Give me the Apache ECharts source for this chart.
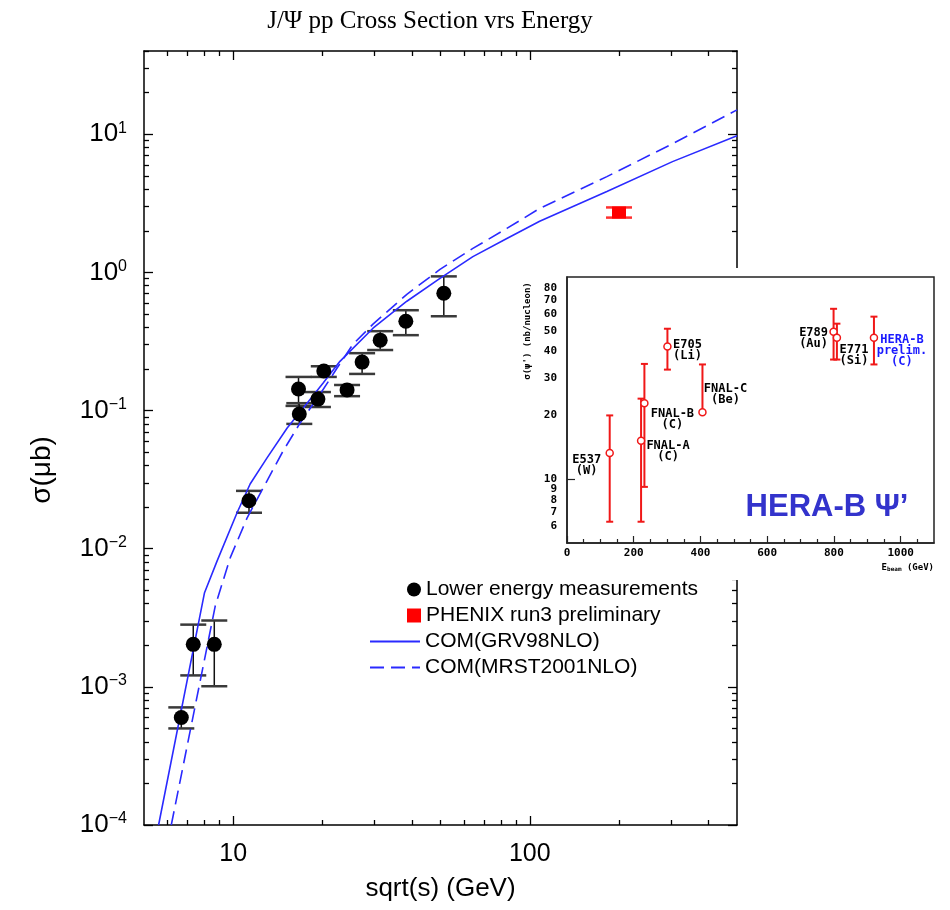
<!DOCTYPE html>
<html>
<head>
<meta charset="utf-8">
<script src="https://cdn.jsdelivr.net/npm/echarts@6/dist/echarts.min.js"></script>
<style>html,body{margin:0;padding:0;background:#fff}#c{width:950px;height:910px}</style>
</head>
<body>
<div id="c"></div>
<script>
// ---------- data ----------
const lowX  = [6.68, 7.33, 8.63, 11.3, 16.6, 16.7, 19.3, 20.2, 24.2, 27.2, 31.3, 38.2, 51.3];
const lowY  = [6.0e-4, 2.03e-3, 2.03e-3, 0.0222, 0.143, 0.0944, 0.121, 0.193, 0.141, 0.224, 0.323, 0.443, 0.705];
const lowLo = [5.0e-4, 1.21e-3, 1.01e-3, 0.0182, 0.108, 0.080, 0.106, 0.175, 0.127, 0.184, 0.274, 0.351, 0.481];
const lowHi = [7.1e-4, 2.82e-3, 3.02e-3, 0.0262, 0.175, 0.113, 0.136, 0.209, 0.153, 0.260, 0.375, 0.532, 0.935];

const phenixX = [200];
const phenixY = [2.71];
const phenixLo = [2.49];
const phenixHi = [2.95];

const grvX = [5.6, 8.0, 8.83, 10.3, 11.4, 13.0, 15.2, 17.2, 20.1, 22.9, 29.6, 38.5, 49.8, 64.3, 83.7, 108, 182, 303, 500];
const grvY = [1.0e-4, 4.8e-3, 8.2e-3, 0.0182, 0.0294, 0.0454, 0.0748, 0.104, 0.158, 0.227, 0.394, 0.618, 0.905, 1.30, 1.76, 2.34, 3.85, 6.33, 9.75];

const mrstX = [6.18, 8.70, 9.77, 11.15, 13.0, 14.74, 16.81, 19.63, 22.4, 25.35, 29.6, 38.5, 49.8, 64.3, 83.7, 108, 182, 303, 500];
const mrstY = [1.0e-4, 3.87e-3, 8.61e-3, 0.0168, 0.0310, 0.0511, 0.0813, 0.1315, 0.203, 0.302, 0.422, 0.693, 1.05, 1.49, 2.08, 2.90, 4.93, 8.53, 15.0];

const xMajorTicks = [10, 100];
const xMinorTicks = [6, 7, 8, 9, 20, 30, 40, 50, 60, 70, 80, 90, 200, 300, 400];
const yMajorTicks = [1e-4, 1e-3, 1e-2, 1e-1, 1, 10];
const yMinorTicks = [2e-4, 3e-4, 4e-4, 5e-4, 6e-4, 7e-4, 8e-4, 9e-4,
                     2e-3, 3e-3, 4e-3, 5e-3, 6e-3, 7e-3, 8e-3, 9e-3,
                     0.02, 0.03, 0.04, 0.05, 0.06, 0.07, 0.08, 0.09,
                     0.2, 0.3, 0.4, 0.5, 0.6, 0.7, 0.8, 0.9,
                     2, 3, 4, 5, 6, 7, 8, 9, 20, 30, 40];

// inset (HERA-B psi')
const insetNames = ['E537\n(W)', 'FNAL-A\n(C)', 'FNAL-B\n(C)', 'E705\n(Li)', 'FNAL-C\n(Be)', 'E789\n(Au)', 'E771\n(Si)', 'HERA-B\nprelim.\n(C)'];
const insetE  = [128, 222, 232, 301, 406, 799, 809, 920];
const insetY  = [13.3, 15.2, 22.8, 42.3, 20.7, 49.7, 46.5, 46.5];
const insetLo = [6.3, 6.3, 9.2, 32.9, 20.7, 36.7, 36.7, 34.8];
const insetHi = [20.0, 24.0, 35.0, 51.3, 34.8, 63.7, 54.2, 58.5];
const insetXTicks = [0, 200, 400, 600, 800, 1000];
const insetXMinor = [50, 100, 150, 250, 300, 350, 450, 500, 550, 650, 700, 750, 850, 900, 950, 1050];
const insetYTicks = [6, 7, 8, 9, 10, 20, 30, 40, 50, 60, 70, 80];

// ---------- styling (not data) ----------
const labelOffsets = [[-23, 12], [27, 11], [28, 16], [20, 4], [23, -18], [-20, 7], [17, 18], [28, 13]];
const labelColors = ['#000', '#000', '#000', '#000', '#000', '#000', '#000', '#1a1aff'];
const BLUE = '#2a2aff';
const SANS = 'Liberation Sans';
const MONO = 'DejaVu Sans Mono';

function zip(a, b) { return a.map((v, i) => [v, b[i]]); }
function zip3(a, b, c) { return a.map((v, i) => [v, b[i], c[i]]); }

function errRender(capW, lineColor, capColor, lw, capLw) {
  return function (params, api) {
    const x = api.value(0), lo = api.value(1), hi = api.value(2);
    const a = api.coord([x, lo]), b = api.coord([x, hi]);
    const h = capW / 2;
    return {
      type: 'group', children: [
        {type: 'line', shape: {x1: a[0], y1: a[1], x2: b[0], y2: b[1]}, style: {stroke: lineColor, lineWidth: lw}},
        {type: 'line', shape: {x1: a[0] - h, y1: a[1], x2: a[0] + h, y2: a[1]}, style: {stroke: capColor, lineWidth: capLw}},
        {type: 'line', shape: {x1: b[0] - h, y1: b[1], x2: b[0] + h, y2: b[1]}, style: {stroke: capColor, lineWidth: capLw}}
      ]
    };
  };
}

function supLabel(v) {
  const e = Math.round(Math.log10(v));
  const s = e < 0 ? '\u2212' + (-e) : String(e);
  return '{b|10}{s|' + s + '}';
}

function mainX(pos, ticks, len, showLine, showLabel) {
  return {
    type: 'log', logBase: 10, gridIndex: 0, min: 5, max: 500, position: pos,
    axisLine: {show: showLine, onZero: false, lineStyle: {color: '#000', width: 1.5}},
    axisTick: {show: true, inside: true, length: len, customValues: ticks, lineStyle: {color: '#000', width: 1.3}},
    axisLabel: {show: showLabel, customValues: xMajorTicks, margin: 17, color: '#000', fontFamily: SANS, fontSize: 25},
    splitLine: {show: false}, minorTick: {show: false},
    name: showLabel ? 'sqrt(s) (GeV)' : '', nameLocation: 'middle', nameGap: 51,
    nameTextStyle: {color: '#000', fontFamily: SANS, fontSize: 26}
  };
}
function mainY(pos, ticks, len, showLine, showLabel) {
  return {
    type: 'log', logBase: 10, gridIndex: 0, min: 1e-4, max: 40, position: pos,
    axisLine: {show: showLine, onZero: false, lineStyle: {color: '#000', width: 1.5}},
    axisTick: {show: true, inside: true, length: len, customValues: ticks, lineStyle: {color: '#000', width: 1.3}},
    axisLabel: {
      show: showLabel, customValues: yMajorTicks, margin: 17, formatter: supLabel,
      rich: {
        b: {fontFamily: SANS, fontSize: 26, color: '#000', lineHeight: 28},
        s: {fontFamily: SANS, fontSize: 16, color: '#000', verticalAlign: 'top', lineHeight: 16}
      }
    },
    splitLine: {show: false}, minorTick: {show: false}
  };
}

const chart = echarts.init(document.getElementById('c'), null, {renderer: 'canvas'});

const option = {
  animation: false,
  backgroundColor: '#fff',
  title: {
    text: 'J/\u03A8 pp Cross Section vrs Energy', left: 425, top: 4, textAlign: 'center',
    textStyle: {fontFamily: 'Liberation Serif', fontSize: 25, fontWeight: 'normal', color: '#000'}
  },
  grid: [
    {left: 144, right: 213, top: 51, bottom: 85, containLabel: false, outerBoundsMode: 'none'},
    {left: 567, right: 16, top: 277, bottom: 367, containLabel: false, outerBoundsMode: 'none',
     show: true, borderColor: '#222', borderWidth: 1.5, backgroundColor: 'rgba(0,0,0,0)', z: 4}
  ],
  legend: [
    {
      orient: 'vertical', left: 402, top: 574, itemWidth: 14, itemHeight: 14, itemGap: 5,
      textStyle: {fontFamily: SANS, fontSize: 21, color: '#000'},
      data: [{name: 'Lower energy measurements', icon: 'circle'}, {name: 'PHENIX run3 preliminary', icon: 'rect'}]
    },
    {
      orient: 'vertical', left: 364, top: 626, itemWidth: 50, itemHeight: 14, itemGap: 5,
      textStyle: {fontFamily: SANS, fontSize: 21, color: '#000'},
      itemStyle: {color: 'rgba(0,0,0,0)', borderColor: 'rgba(0,0,0,0)', borderWidth: 0},
      data: ['COM(GRV98NLO)', 'COM(MRST2001NLO)']
    }
  ],
  xAxis: [
    mainX('bottom', xMajorTicks, 9, true, true),
    mainX('bottom', xMinorTicks, 5, false, false),
    mainX('top', xMajorTicks, 9, true, false),
    mainX('top', xMinorTicks, 5, false, false),
    {
      type: 'value', gridIndex: 1, min: 0, max: 1100, position: 'bottom', z: 4,
      axisLine: {show: true, onZero: false, lineStyle: {color: '#222', width: 1.5}},
      axisTick: {show: true, inside: true, length: 7, customValues: insetXTicks, lineStyle: {color: '#222', width: 1.2}},
      axisLabel: {customValues: insetXTicks, margin: 5, color: '#000', fontFamily: MONO, fontSize: 11, fontWeight: 'bold',
                  formatter: v => String(v)},
      splitLine: {show: false}
    },
    {
      type: 'value', gridIndex: 1, min: 0, max: 1100, position: 'bottom', z: 4,
      axisLine: {show: false, onZero: false},
      axisTick: {show: true, inside: true, length: 4, customValues: insetXMinor, lineStyle: {color: '#222', width: 1.2}},
      axisLabel: {show: false}, splitLine: {show: false}
    }
  ],
  yAxis: [
    mainY('left', yMajorTicks, 9, true, true),
    mainY('left', yMinorTicks, 5, false, false),
    mainY('right', yMajorTicks, 9, true, false),
    mainY('right', yMinorTicks, 5, false, false),
    {
      type: 'log', logBase: 10, gridIndex: 1, min: 5, max: 90, position: 'left', z: 4,
      axisLine: {show: true, onZero: false, lineStyle: {color: '#222', width: 1.5}},
      axisTick: {show: true, inside: true, length: 8, customValues: [10], lineStyle: {color: '#222', width: 1.2}},
      axisLabel: {customValues: insetYTicks, margin: 10, color: '#000', fontFamily: MONO, fontSize: 11, fontWeight: 'bold',
                  formatter: v => String(Math.round(v))},
      splitLine: {show: false}, minorTick: {show: false}
    }
  ],
  series: [
    {
      name: 'COM(GRV98NLO)', type: 'line', xAxisIndex: 0, yAxisIndex: 0, symbol: 'none', z: 2,
      data: zip(grvX, grvY), color: BLUE, lineStyle: {color: BLUE, width: 1.6, type: 'solid'}
    },
    {
      name: 'COM(MRST2001NLO)', type: 'line', xAxisIndex: 0, yAxisIndex: 0, symbol: 'none', z: 2,
      data: zip(mrstX, mrstY), color: BLUE, lineStyle: {color: BLUE, width: 1.6, type: [14, 7]}
    },
    {
      name: 'lowErr', type: 'custom', xAxisIndex: 0, yAxisIndex: 0, z: 2,
      encode: {x: 0, y: [1, 2]}, data: zip3(lowX, lowLo, lowHi),
      renderItem: errRender(26, '#111', '#3a3a3a', 1.5, 2.5)
    },
    {
      name: 'Lower energy measurements', type: 'scatter', xAxisIndex: 0, yAxisIndex: 0, z: 3,
      symbol: 'circle', symbolSize: 15, data: zip(lowX, lowY), itemStyle: {color: '#000', opacity: 1}
    },
    {
      name: 'phenixErr', type: 'custom', xAxisIndex: 0, yAxisIndex: 0, z: 2,
      encode: {x: 0, y: [1, 2]}, data: zip3(phenixX, phenixLo, phenixHi),
      renderItem: errRender(26, '#ff2020', '#ff3030', 1.5, 2.5)
    },
    {
      name: 'PHENIX run3 preliminary', type: 'scatter', xAxisIndex: 0, yAxisIndex: 0, z: 3,
      symbol: 'rect', symbolSize: [14, 12], data: zip(phenixX, phenixY), itemStyle: {color: '#ff0000', opacity: 1}
    },
    {
      name: 'insetErr', type: 'custom', xAxisIndex: 4, yAxisIndex: 4, z: 5,
      encode: {x: 0, y: [1, 2]}, data: zip3(insetE, insetLo, insetHi),
      renderItem: errRender(7, '#f01818', '#f01818', 2, 2)
    },
    {
      name: 'insetPts', type: 'scatter', xAxisIndex: 4, yAxisIndex: 4, z: 6,
      symbol: 'circle', symbolSize: 7,
      itemStyle: {color: '#fff', borderColor: '#f01818', borderWidth: 1.5, opacity: 1},
      data: insetE.map((e, i) => ({
        value: [e, insetY[i]], name: insetNames[i],
        label: {
          show: true, position: 'inside', offset: labelOffsets[i], formatter: insetNames[i],
          align: 'center', verticalAlign: 'middle',
          color: labelColors[i], fontFamily: MONO, fontSize: 12, fontWeight: 'bold', lineHeight: 11
        }
      }))
    }
  ],
  graphic: {
    elements: [
      {type: 'rect', z: 3, shape: {x: 515, y: 268, width: 430, height: 312}, style: {fill: '#fff'}},
      {type: 'text', z: 1, x: 42, y: 470, rotation: Math.PI / 2,
       style: {text: '\u03C3(\u03BCb)', fontFamily: SANS, fontSize: 28, fill: '#000', align: 'center', verticalAlign: 'middle'}},
      {type: 'text', z: 7, x: 528, y: 331, rotation: Math.PI / 2,
       style: {text: "\u03C3(\u03C8') (nb/nucleon)", fontFamily: MONO, fontSize: 9, fontWeight: 'bold', fill: '#000', align: 'center', verticalAlign: 'middle'}},
      {type: 'text', z: 7, x: 934, y: 568,
       style: {text: '{a|E}{b|beam}{a| (GeV)}', fill: '#000', align: 'right', verticalAlign: 'middle',
               rich: {a: {fontFamily: MONO, fontSize: 9, fontWeight: 'bold'},
                      b: {fontFamily: MONO, fontSize: 6, fontWeight: 'bold', verticalAlign: 'bottom'}}}},
      {type: 'text', z: 7, x: 827, y: 507,
       style: {text: 'HERA-B \u03A8\u2019', fontFamily: SANS, fontSize: 31, fontWeight: 'bold', fill: '#3333cc', align: 'center', verticalAlign: 'middle'}}
    ]
  }
};
chart.setOption(option);
</script>
</body>
</html>
